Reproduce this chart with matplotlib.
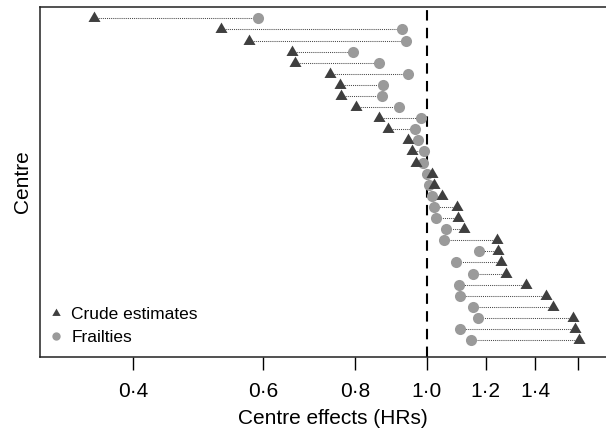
import numpy as np
import matplotlib
matplotlib.use("Agg")
import matplotlib.pyplot as plt
from matplotlib.lines import Line2D

plt.rcParams["font.family"] = ["Liberation Sans", "DejaVu Sans"]

# Centre effects (hazard ratios), top row first
crude = [0.354, 0.527, 0.574, 0.656, 0.663, 0.739, 0.763, 0.765, 0.802, 0.862,
         0.886, 0.943, 0.953, 0.965, 1.016, 1.022, 1.047, 1.097, 1.102, 1.123,
         1.243, 1.249, 1.259, 1.279, 1.360, 1.447, 1.482, 1.577, 1.586, 1.607]
frailty = [0.591, 0.924, 0.937, 0.795, 0.862, 0.943, 0.873, 0.868, 0.917, 0.981,
           0.963, 0.973, 0.991, 0.988, 0.999, 1.007, 1.015, 1.022, 1.027, 1.060,
           1.054, 1.177, 1.094, 1.155, 1.106, 1.108, 1.155, 1.171, 1.108, 1.146]
tick_values = [0.4, 0.6, 0.8, 1.0, 1.2, 1.4, 1.6]
tick_labels = ["0·4", "0·6", "0·8", "1·0", "1·2", "1·4", ""]

TRI_COLOR = "#3f3f3f"
CIRC_COLOR = "#9a9a9a"
# equilateral triangle, centred on its centroid
tri_marker = [(-1, -0.577), (1, -0.577), (0, 1.155), (-1, -0.577)]

fig = plt.figure(figsize=(6.06, 4.32), dpi=100)
# the original panel runs past the right edge of the picture
ax = fig.add_axes([40 / 606, 75.3 / 432, 586 / 606, 349.4 / 432])

rows = np.arange(1, len(crude) + 1)
for r, c, f in zip(rows, crude, frailty):
    ax.plot([c, f], [r, r], color="#4a4a4a", lw=0.75, ls=(0, (1, 1)), zorder=1)
ax.plot(crude, rows, ls="none", marker=tri_marker, ms=10, color=TRI_COLOR,
        mec=TRI_COLOR, mew=0, zorder=3)
ax.plot(frailty, rows, ls="none", marker="o", ms=8, color=CIRC_COLOR,
        mec=CIRC_COLOR, mew=0, zorder=2)

ax.axvline(1.0, color="black", lw=1.5, ls=(0, (5, 3.5)), zorder=0)

ax.set_xscale("log")
ax.set_xlim(0.2995, 1.859)
ax.set_ylim(31.5, 0.0)
ax.set_xticks(tick_values)
ax.set_xticklabels(tick_labels)
ax.xaxis.set_minor_locator(matplotlib.ticker.NullLocator())
ax.set_yticks([])
ax.tick_params(axis="x", length=9, width=1, pad=9, labelsize=15)
for sp in ax.spines.values():
    sp.set_linewidth(1.1)
    sp.set_color("#222222")

ax.set_xlabel("Centre effects (HRs)", fontsize=15, labelpad=6)
ax.set_ylabel("Centre", fontsize=15, labelpad=6)

handles = [
    Line2D([], [], ls="none", marker=tri_marker, ms=7, color=TRI_COLOR, mew=0),
    Line2D([], [], ls="none", marker="o", ms=6, color=CIRC_COLOR, mew=0),
]
ax.legend(handles, ["Crude estimates", "Frailties"], loc="lower left",
          frameon=False, fontsize=12.5, handlelength=0.8, handletextpad=0.48,
          labelspacing=0.43, borderaxespad=0.0,
          bbox_to_anchor=(2 / 586, 5 / 349.4))

fig.savefig("out.png", dpi=100)
